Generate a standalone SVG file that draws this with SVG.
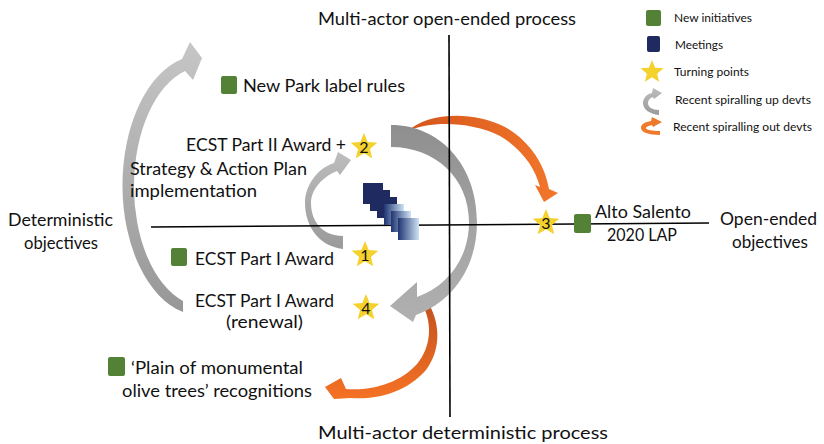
<svg xmlns="http://www.w3.org/2000/svg" width="824" height="444" viewBox="0 0 824 444">
<style>
text{font-family:Lato,"Liberation Sans","Noto Sans",sans-serif;fill:#111;}
.t{font-size:18px;}
.l{font-size:12px;}
.n{font-size:16px;text-anchor:middle;}
.ax{stroke:#000;stroke-width:1.6;fill:none;}
.g{fill:#538135;}
.star{fill:#f4d12c;}
</style>
<defs>
<polygon id="star" points="0,-14 3.66,-5.03 13.31,-4.33 5.92,1.92 8.23,11.33 0,6.2 -8.23,11.33 -5.92,1.92 -13.31,-4.33 -3.66,-5.03"/>
<linearGradient id="gL" x1="0" y1="0" x2="0" y2="1"><stop offset="0" stop-color="#c6c6c6"/><stop offset="1" stop-color="#979797"/></linearGradient>
<linearGradient id="gR" x1="0" y1="0" x2="0" y2="1"><stop offset="0" stop-color="#8e8e8e"/><stop offset="0.5" stop-color="#a3a3a3"/><stop offset="1" stop-color="#b0b0b0"/></linearGradient>
<linearGradient id="gS" x1="0" y1="0" x2="0" y2="1"><stop offset="0" stop-color="#bdbdbd"/><stop offset="1" stop-color="#9a9a9a"/></linearGradient>
<linearGradient id="oT" x1="0" y1="0" x2="1" y2="0"><stop offset="0" stop-color="#d4561c"/><stop offset="1" stop-color="#f2762a"/></linearGradient>
<linearGradient id="oB" x1="0" y1="0" x2="0" y2="1"><stop offset="0" stop-color="#c4531f"/><stop offset="1" stop-color="#f57224"/></linearGradient>
<linearGradient id="mg" x1="0" y1="0" x2="1" y2="0"><stop offset="0" stop-color="#1f3471"/><stop offset="1" stop-color="#cfe3f5"/></linearGradient>
</defs>

<g id="connectors">
<path id="orange-top" fill="url(#oT)" d="M408,131 C425,114 470,109 505,127 C530,141 545,165 549,189 L558,193 L544,202 L535,185 L540,187 C535,168 522,149 500,136 C470,121 430,121 408,131 Z"/>
<path id="orange-bottom" fill="url(#oB)" d="M424,308 L430,306 C440,325 441,350 426,370 C406,393 376,400 350,398 L334,399 L325,387 L341,378 L346,389 C372,391 400,383 417,364 C431,347 432,325 424,308 Z"/>
<path id="grey-left" fill="url(#gL)" d="M183,312 A78,130 0 0,1 182,59 L190,42 L202,58 L193,80 L185,71 A70,120 0 0,0 183,301 Z"/>
<path id="grey-right" fill="url(#gR)" d="M391,125 C440,125 477,165 477,222 C477,268 452,302 416,315 L413,322 L390,306 L417,282 L417,297 C448,286 469,258 469,222 C469,178 435,147 391,147 Z"/>
<path id="grey-small" fill="url(#gS)" d="M343,249 C318,246 305,225 305,203 C305,185 318,168 334,163 L338,152 L351,160 L340,175 L337,171 C322,177 311,190 311,203 C311,222 323,236 343,236 Z"/>
</g>

<g id="axes">
<line class="ax" x1="151" y1="227" x2="709" y2="223"/>
<line class="ax" x1="449" y1="35" x2="450" y2="417"/>
</g>

<g id="meetings">
<rect x="363" y="183" width="20" height="21" fill="#1f2a60"/>
<rect x="370" y="190" width="20" height="21" fill="#1f2a60"/>
<rect x="377" y="197" width="20" height="21" fill="#1f2a60"/>
<rect x="384" y="204" width="20" height="21" fill="url(#mg)"/>
<rect x="391" y="211" width="20" height="21" fill="url(#mg)"/>
<rect x="398" y="218" width="21" height="22" fill="url(#mg)"/>
</g>

<g id="star1"><use href="#star" class="star" transform="translate(365,255)"/><text class="n" x="365" y="261">1</text></g>
<g id="star2"><use href="#star" class="star" transform="translate(364,147)"/><text class="n" x="364" y="153">2</text></g>
<g id="star3"><use href="#star" class="star" transform="translate(546,223)"/><text class="n" x="546" y="229">3</text></g>
<g id="star4"><use href="#star" class="star" transform="translate(366,308)"/><text class="n" x="366" y="314">4</text></g>

<g id="new-park"><rect class="g" x="221" y="76" width="16" height="18" rx="2"/><text class="t" x="243" y="92" textLength="162" lengthAdjust="spacingAndGlyphs">New Park label rules</text></g>
<g id="ecst2"><text class="t" x="186" y="151" textLength="160" lengthAdjust="spacingAndGlyphs">ECST Part II Award +</text><text class="t" x="130" y="175" textLength="177" lengthAdjust="spacingAndGlyphs">Strategy &amp; Action Plan</text><text class="t" x="130" y="197" textLength="127" lengthAdjust="spacingAndGlyphs">implementation</text></g>
<g id="ecst1"><rect class="g" x="171" y="248" width="16" height="18" rx="2"/><text class="t" x="195" y="265" textLength="139" lengthAdjust="spacingAndGlyphs">ECST Part I Award</text></g>
<g id="ecst1-renewal"><text class="t" x="195" y="307" textLength="139" lengthAdjust="spacingAndGlyphs">ECST Part I Award</text><text class="t" x="226" y="328" textLength="77" lengthAdjust="spacingAndGlyphs">(renewal)</text></g>
<g id="plain"><rect class="g" x="108" y="357" width="17" height="19" rx="2"/><text class="t" x="131" y="374" textLength="172" lengthAdjust="spacingAndGlyphs">‘Plain of monumental</text><text class="t" x="122" y="397" textLength="190" lengthAdjust="spacingAndGlyphs">olive trees’ recognitions</text></g>
<g id="alto"><rect class="g" x="574" y="214" width="17" height="19" rx="2"/><text class="t" x="595" y="218" textLength="96" lengthAdjust="spacingAndGlyphs">Alto Salento</text><text class="t" x="607" y="241" textLength="70" lengthAdjust="spacingAndGlyphs">2020 LAP</text></g>

<g id="axis-labels">
<text class="t" x="318" y="25" textLength="258" lengthAdjust="spacingAndGlyphs">Multi-actor open-ended process</text>
<text class="t" x="318" y="439" textLength="290" lengthAdjust="spacingAndGlyphs">Multi-actor deterministic process</text>
<text class="t" x="8" y="226" textLength="105" lengthAdjust="spacingAndGlyphs">Deterministic</text>
<text class="t" x="24" y="249" textLength="74" lengthAdjust="spacingAndGlyphs">objectives</text>
<text class="t" x="720" y="225" textLength="97" lengthAdjust="spacingAndGlyphs">Open-ended</text>
<text class="t" x="732" y="248" textLength="76" lengthAdjust="spacingAndGlyphs">objectives</text>
</g>

<g id="legend">
<rect class="g" x="646" y="10" width="15" height="16" rx="2"/>
<text class="l" x="674" y="22" textLength="78" lengthAdjust="spacingAndGlyphs">New initiatives</text>
<rect x="647" y="36" width="13" height="16" rx="2" fill="#1f2a60"/>
<text class="l" x="675" y="49" textLength="48" lengthAdjust="spacingAndGlyphs">Meetings</text>
<use href="#star" class="star" transform="translate(652,72) scale(0.86)"/>
<text class="l" x="674" y="76" textLength="75" lengthAdjust="spacingAndGlyphs">Turning points</text>
<path fill="url(#gS)" d="M659,115 C649,114 643,109 643,103 C643,98 647,94 652,93 L653,88 L662,93 L654,99 L653,97 C650,98 648,100 648,103 C648,107 652,110 659,110 Z"/>
<text class="l" x="675" y="104" textLength="136" lengthAdjust="spacingAndGlyphs">Recent spiralling up devts</text>
<path fill="#ee7a2c" d="M660,135 C648,135 641,132 641,128 C641,124 645,122 651,121 L652,117 L662,122 L653,127 L652,125 C648,126 646,127 646,128 C646,130 652,131 660,131 Z"/>
<text class="l" x="673" y="131" textLength="139" lengthAdjust="spacingAndGlyphs">Recent spiralling out devts</text>
</g>
</svg>
